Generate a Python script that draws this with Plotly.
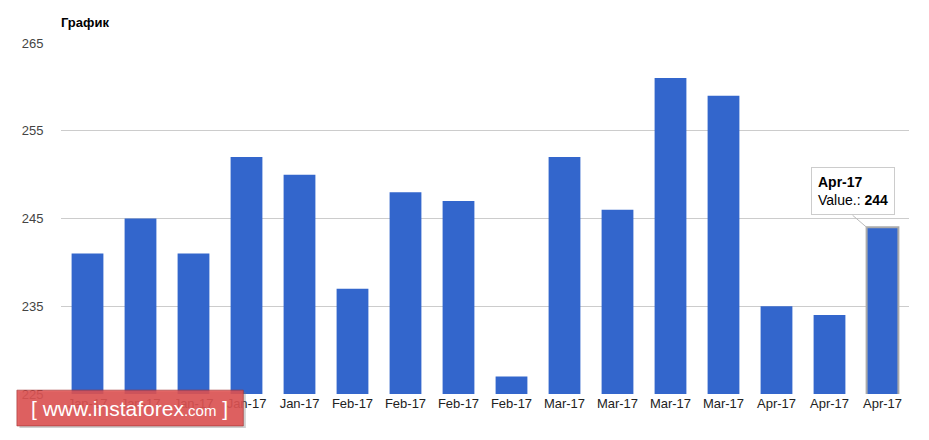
import plotly.graph_objects as go

labels = ["Jan-17", "Jan-17", "Jan-17", "Jan-17", "Jan-17",
          "Feb-17", "Feb-17", "Feb-17", "Feb-17",
          "Mar-17", "Mar-17", "Mar-17", "Mar-17",
          "Apr-17", "Apr-17", "Apr-17"]
values = [241, 245, 241, 252, 250, 237, 248, 247, 227, 252, 246, 261, 259, 235, 234, 244]
y_ticks = [225, 235, 245, 255, 265]

x = list(range(len(values)))
line_colors = ["rgba(0,0,0,0)"] * (len(values) - 1) + ["#aaaaaa"]

fig = go.Figure()
fig.add_trace(
    go.Bar(
        x=x,
        y=values,
        base=0,
        width=0.6,
        marker=dict(color="#3366cc", line=dict(color=line_colors, width=2)),
        hoverinfo="skip",
        showlegend=False,
    )
)

# tooltip on the last bar
fig.add_annotation(
    x=x[-1] - 0.3,
    y=values[-1],
    xref="x",
    yref="y",
    text="<b>" + labels[-1] + "</b><br>Value.: <b>" + str(values[-1]) + "</b>",
    align="left",
    showarrow=True,
    arrowhead=0,
    arrowwidth=1,
    arrowcolor="#bbbbbb",
    ax=-14,
    ay=-12,
    xanchor="center",
    yanchor="bottom",
    bgcolor="white",
    bordercolor="#cccccc",
    borderwidth=1,
    borderpad=6,
    font=dict(family="Arial", size=14, color="#000000"),
)

# watermark (shadow + box + text)
fig.add_shape(
    type="rect", xref="paper", yref="paper",
    x0=-0.049, x1=0.218, y0=-0.097, y1=0.006,
    fillcolor="rgba(120,120,120,0.35)", line=dict(width=0), layer="above",
)
fig.add_shape(
    type="rect", xref="paper", yref="paper",
    x0=-0.052, x1=0.215, y0=-0.091, y1=0.011,
    fillcolor="rgba(222,80,80,0.88)",
    line=dict(color="rgba(160,50,50,0.6)", width=1),
    layer="above",
)
fig.add_annotation(
    x=0.081, y=-0.042, xref="paper", yref="paper",
    xanchor="center", yanchor="middle",
    text="[ www.instaforex<span style='font-size:15px'>.com</span> ]",
    showarrow=False,
    font=dict(family="Arial", size=21, color="white"),
)

fig.update_layout(
    width=929,
    height=440,
    margin=dict(l=61, r=20, t=43, b=46),
    paper_bgcolor="white",
    plot_bgcolor="white",
    title=dict(
        text="<b>График</b>",
        x=61 / 929,
        xanchor="left",
        y=1 - 22 / 440,
        yanchor="middle",
        font=dict(family="Arial", size=13, color="#000000"),
    ),
    bargap=0.4,
    xaxis=dict(
        range=[-0.5, len(values) - 0.5],
        tickvals=x,
        ticktext=labels,
        tickfont=dict(family="Arial", size=13, color="#222222"),
        showgrid=False,
        ticks="",
        showline=False,
        zeroline=False,
    ),
    yaxis=dict(
        range=[225, 265],
        tickvals=y_ticks,
        tickfont=dict(family="Arial", size=13, color="#444444"),
        gridcolor="#cccccc",
        gridwidth=1,
        zeroline=False,
        showline=False,
        ticks="outside",
        ticklen=14,
        tickcolor="white",
    ),
)

fig.write_html(
    "out.html",
    config={"displayModeBar": False},
    post_script="document.body.style.margin='0';",
)
